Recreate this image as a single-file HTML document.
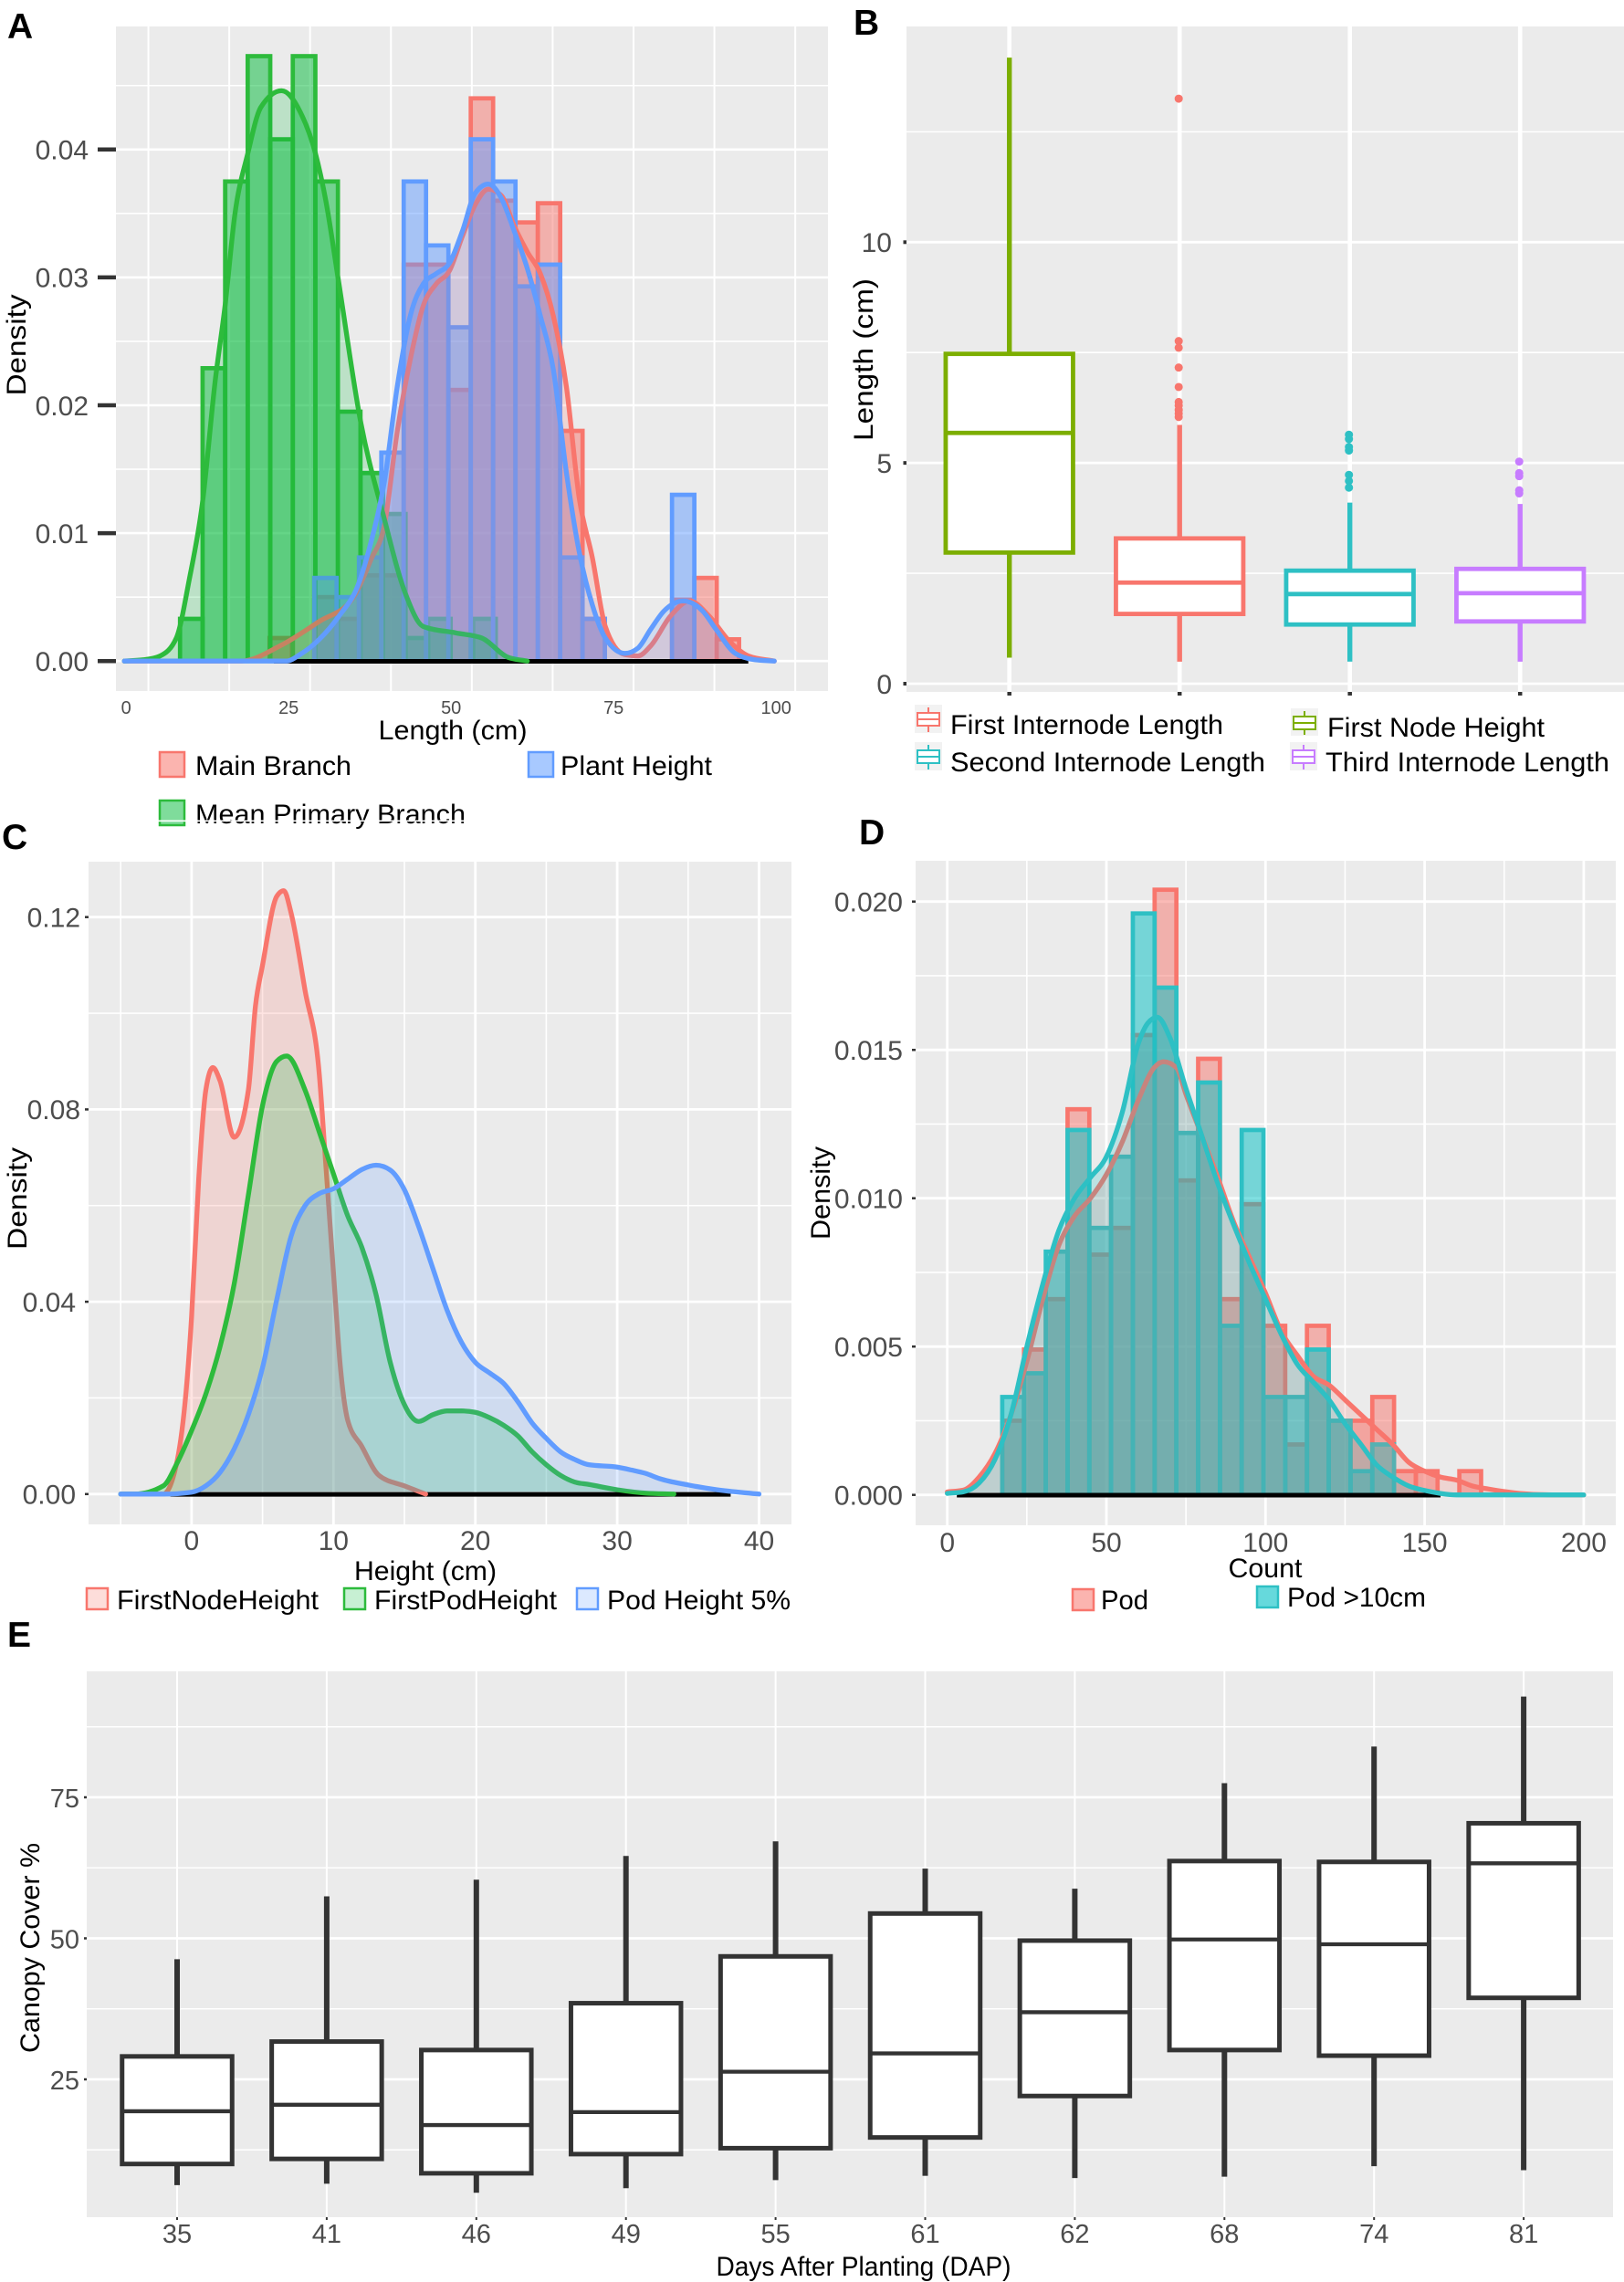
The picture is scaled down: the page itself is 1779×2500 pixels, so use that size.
<!DOCTYPE html>
<html lang="en">
<head>
<meta charset="utf-8">
<title>Multi-panel trait distribution figure</title>
<style>
html,body{margin:0;padding:0;background:#fff}
svg{display:block}
text{font-family:"Liberation Sans",sans-serif}
.panel-letter{font-weight:bold;font-size:39px;fill:#000}
.title{font-size:30px;fill:#000}
.legend{font-size:30px;fill:#000}
</style>
</head>
<body>
<svg id="figure" xmlns="http://www.w3.org/2000/svg" width="1779" height="2500" viewBox="0 0 1779 2500">
  <rect x="0" y="0" width="1779" height="2500" fill="#fff"/>

  <!-- Panel A -->
  <g id="panelA">
    <rect x="127" y="29" width="780" height="728" fill="#EBEBEB"/>
    <g id="plotA"></g>
    <text class="panel-letter" x="8" y="42">A</text>
    <text class="title" x="496" y="810" text-anchor="middle" textLength="163" lengthAdjust="spacingAndGlyphs">Length (cm)</text>
    <text class="title" transform="translate(28,378) rotate(-90)" text-anchor="middle" textLength="111" lengthAdjust="spacingAndGlyphs">Density</text>
    <rect x="175" y="824" width="27" height="27" fill="#F8766D" fill-opacity="0.55" stroke="#F8766D" stroke-width="2.5"/>
    <text class="legend" x="214" y="849" textLength="171" lengthAdjust="spacingAndGlyphs">Main Branch</text>
    <rect x="579" y="824" width="27" height="27" fill="#619CFF" fill-opacity="0.55" stroke="#619CFF" stroke-width="2.5"/>
    <text class="legend" x="614" y="849" textLength="166" lengthAdjust="spacingAndGlyphs">Plant Height</text>
    <rect x="175" y="877" width="27" height="27" fill="#00BA38" fill-opacity="0.5" stroke="#2DBB3C" stroke-width="2.5"/>
    <text class="legend" x="214" y="902" textLength="296" lengthAdjust="spacingAndGlyphs">Mean Primary Branch</text>
  </g>

  <!-- Panel B -->
  <g id="panelB">
    <rect x="993" y="29" width="786" height="729" fill="#EBEBEB"/>
    <g id="plotB"></g>
    <text class="panel-letter" x="935" y="38">B</text>
    <text class="title" transform="translate(956,394) rotate(-90)" text-anchor="middle" textLength="178" lengthAdjust="spacingAndGlyphs">Length (cm)</text>

    <g>
      <rect x="1002" y="772" width="30" height="31" fill="#F2F2F2"/>
      <path d="M1017 775V782M1017 795V802" stroke="#F8766D" stroke-width="2"/>
      <rect x="1005" y="781" width="24" height="14" fill="#fff" stroke="#F8766D" stroke-width="2"/>
      <path d="M1005 788H1029" stroke="#F8766D" stroke-width="2"/>
    </g>
    <text class="legend" x="1041" y="804" textLength="299" lengthAdjust="spacingAndGlyphs">First Internode Length</text>
    <g>
      <rect x="1002" y="813" width="30" height="31" fill="#F2F2F2"/>
      <path d="M1017 816V823M1017 836V843" stroke="#2EC0C4" stroke-width="2"/>
      <rect x="1005" y="822" width="24" height="14" fill="#fff" stroke="#2EC0C4" stroke-width="2"/>
      <path d="M1005 829H1029" stroke="#2EC0C4" stroke-width="2"/>
    </g>
    <text class="legend" x="1041" y="845" textLength="345" lengthAdjust="spacingAndGlyphs">Second Internode Length</text>
    <g>
      <rect x="1414" y="776" width="30" height="30" fill="#F2F2F2"/>
      <path d="M1429 779V785M1429 798V805" stroke="#7CAE00" stroke-width="2"/>
      <rect x="1417" y="785" width="24" height="14" fill="#fff" stroke="#7CAE00" stroke-width="2"/>
      <path d="M1417 792H1441" stroke="#7CAE00" stroke-width="2"/>
    </g>
    <text class="legend" x="1454" y="807" textLength="238" lengthAdjust="spacingAndGlyphs">First Node Height</text>
    <g>
      <rect x="1413" y="813" width="30" height="31" fill="#F2F2F2"/>
      <path d="M1428 816V823M1428 836V843" stroke="#C77CFF" stroke-width="2"/>
      <rect x="1416" y="822" width="24" height="14" fill="#fff" stroke="#C77CFF" stroke-width="2"/>
      <path d="M1416 829H1440" stroke="#C77CFF" stroke-width="2"/>
    </g>
    <text class="legend" x="1452" y="845" textLength="311" lengthAdjust="spacingAndGlyphs">Third Internode Length</text>
  </g>

  <!-- Panel C -->
  <g id="panelC">
    <rect x="97" y="944" width="770" height="726" fill="#EBEBEB"/>
    <g id="plotC"></g>
    <text class="panel-letter" x="2" y="930">C</text>
    <text class="title" x="466" y="1731" text-anchor="middle" textLength="156" lengthAdjust="spacingAndGlyphs">Height (cm)</text>
    <text class="title" transform="translate(29,1313) rotate(-90)" text-anchor="middle" textLength="112" lengthAdjust="spacingAndGlyphs">Density</text>
    <rect x="95" y="1740" width="23" height="23" fill="#F8766D" fill-opacity="0.25" stroke="#F8766D" stroke-width="2.5"/>
    <text class="legend" x="128" y="1763" textLength="221" lengthAdjust="spacingAndGlyphs">FirstNodeHeight</text>
    <rect x="377" y="1740" width="23" height="23" fill="#00BA38" fill-opacity="0.22" stroke="#2DBB3C" stroke-width="2.5"/>
    <text class="legend" x="410" y="1763" textLength="200" lengthAdjust="spacingAndGlyphs">FirstPodHeight</text>
    <rect x="632" y="1740" width="23" height="23" fill="#619CFF" fill-opacity="0.22" stroke="#619CFF" stroke-width="2.5"/>
    <text class="legend" x="665" y="1763" textLength="201" lengthAdjust="spacingAndGlyphs">Pod Height 5%</text>
  </g>

  <!-- Panel D -->
  <g id="panelD">
    <rect x="1003" y="943" width="767" height="728" fill="#EBEBEB"/>
    <g id="plotD"></g>
    <text class="panel-letter" x="941" y="925">D</text>
    <text class="title" x="1386" y="1728" text-anchor="middle" textLength="81" lengthAdjust="spacingAndGlyphs">Count</text>
    <text class="title" transform="translate(909,1307) rotate(-90)" text-anchor="middle" textLength="102" lengthAdjust="spacingAndGlyphs">Density</text>
    <rect x="1175" y="1741" width="23" height="23" fill="#F8766D" fill-opacity="0.55" stroke="#F8766D" stroke-width="2.5"/>
    <text class="legend" x="1206" y="1763" textLength="52" lengthAdjust="spacingAndGlyphs">Pod</text>
    <rect x="1377" y="1738" width="23" height="23" fill="#00BFC4" fill-opacity="0.6" stroke="#2EC0C4" stroke-width="2.5"/>
    <text class="legend" x="1410" y="1760" textLength="152" lengthAdjust="spacingAndGlyphs">Pod &gt;10cm</text>
  </g>

  <!-- Panel E -->
  <g id="panelE">
    <rect x="95" y="1831" width="1672" height="598" fill="#EBEBEB"/>
    <g id="plotE"></g>
    <text class="panel-letter" x="8" y="1804">E</text>
    <text class="title" x="946" y="2493" text-anchor="middle" textLength="323" lengthAdjust="spacingAndGlyphs">Days After Planting (DAP)</text>
    <text class="title" transform="translate(43,2134) rotate(-90)" text-anchor="middle" textLength="230" lengthAdjust="spacingAndGlyphs">Canopy Cover %</text>
  </g>
</svg>

<script>
// ---------- Panel A data ----------
const aXTickLabels = [0, 25, 50, 75, 100];
const aYTickValues = [0, 0.01, 0.02, 0.03, 0.04];
const aYTickLabels = ['0.00', '0.01', '0.02', '0.03', '0.04'];
const aGreenBinStart = 8.57;
const aGreenBinWidth = 3.47;
const aGreenBars = [0.0033, 0.0229, 0.0375, 0.0473, 0.0408, 0.0473, 0.0375, 0.0195, 0.0147, 0.0115, 0.0018, 0.0033, 0, 0.0033];
const aBinStart = 22.34;
const aBinWidth = 3.44;
const aRedBars = [0.0018, 0, 0.005, 0.0033, 0.0067, 0.0067, 0.031, 0.031, 0.0212, 0.044, 0.036, 0.0343, 0.0358, 0.018, 0.0033, 0, 0, 0, 0.0048, 0.0065, 0.0017];
const aBlueBars = [0, 0, 0.0065, 0.005, 0.0081, 0.0163, 0.0375, 0.0325, 0.0261, 0.0408, 0.0375, 0.0293, 0.031, 0.0081, 0.0033, 0, 0, 0, 0.013];
const aRedDensityX = [0, 18, 24, 30, 35, 38, 40, 42, 44, 46, 48, 50, 52, 54, 56, 58, 60, 62, 64, 66, 68, 70, 72, 74, 77, 79, 81, 84, 87, 90, 93, 96, 100];
const aRedDensityY = [0, 0, 0.0012, 0.0031, 0.0048, 0.008, 0.0106, 0.018, 0.0236, 0.0278, 0.0295, 0.0305, 0.0332, 0.0357, 0.0369, 0.0364, 0.034, 0.032, 0.0303, 0.027, 0.0215, 0.0127, 0.0081, 0.0027, 0.0005, 0.0004, 0.0012, 0.0035, 0.0047, 0.0035, 0.0016, 0.0004, 0];
const aGreenDensityX = [0, 3, 5.5, 8, 10, 12, 14, 15.5, 17, 19, 21, 24.2, 27, 29.4, 31, 32.9, 36.4, 39.8, 43.3, 46, 51, 55, 59, 62];
const aGreenDensityY = [0, 0.0001, 0.0004, 0.0018, 0.0064, 0.0123, 0.022, 0.0278, 0.0349, 0.0397, 0.0433, 0.0446, 0.043, 0.0397, 0.036, 0.0299, 0.0186, 0.0115, 0.0052, 0.0027, 0.0022, 0.0018, 0.0003, 0];
const aBlueDensityX = [0, 25, 27, 30, 33, 36, 38, 40, 42, 44, 46, 48, 50, 52, 54, 56, 58, 60, 62, 64, 66, 68, 70, 72, 74, 77, 79, 81, 83, 86, 89, 91, 94, 97, 100];
const aBlueDensityY = [0, 0, 0.0005, 0.0017, 0.0035, 0.006, 0.0094, 0.014, 0.0215, 0.027, 0.0295, 0.0303, 0.0311, 0.0336, 0.0366, 0.0373, 0.0362, 0.0336, 0.0307, 0.027, 0.0228, 0.0148, 0.0085, 0.0044, 0.0018, 0.0006, 0.001, 0.0025, 0.0039, 0.0047, 0.0039, 0.0025, 0.0006, 0.0001, 0];

// ---------- Panel B data ----------
const bYTickLabels = [0, 5, 10];
const bCategories = ['First Node Height', 'First Internode Length', 'Second Internode Length', 'Third Internode Length'];
const bColors = ['#7CAE00', '#F8766D', '#2EC0C4', '#C77CFF'];
const bWhiskerHigh = [14.18, 5.86, 4.1, 4.07];
const bQ3 = [7.47, 3.29, 2.56, 2.6];
const bMedian = [5.68, 2.29, 2.03, 2.05];
const bQ1 = [2.97, 1.58, 1.34, 1.41];
const bWhiskerLow = [0.59, 0.5, 0.5, 0.5];
const bOutliersFirstNode = [];
const bOutliersFirstInternode = [13.25, 7.76, 7.61, 7.16, 6.72, 6.38, 6.3, 6.2, 6.12, 6.04];
const bOutliersSecondInternode = [5.64, 5.54, 5.36, 5.28, 4.73, 4.59, 4.44];
const bOutliersThirdInternode = [5.03, 4.77, 4.7, 4.38, 4.31];

// ---------- Panel C data ----------
const cXTickLabels = [0, 10, 20, 30, 40];
const cYTickValues = [0, 0.04, 0.08, 0.12];
const cYTickLabels = ['0.00', '0.04', '0.08', '0.12'];
const cRedDensityX = [-5, -2, -1, 0, 0.5, 1, 1.5, 2, 3, 4, 4.5, 5, 6, 6.5, 7, 8, 9, 9.4, 10, 10.5, 11, 12, 13.2, 15, 16.5];
const cRedDensityY = [0, 0, 0.0072, 0.037, 0.0655, 0.084, 0.0887, 0.086, 0.0742, 0.084, 0.1015, 0.11, 0.1243, 0.1255, 0.121, 0.1047, 0.0873, 0.071, 0.046, 0.026, 0.0154, 0.0099, 0.0039, 0.0017, 0];
const cGreenDensityX = [-5, -4, -2, -1, 0, 1, 2, 3, 4, 5, 6, 6.7, 8, 9, 10, 11, 12, 13, 14, 15, 16, 17, 18, 19, 20, 21, 22, 23, 24, 25, 26, 27, 28, 30, 32, 34];
const cGreenDensityY = [0, 0, 0.0017, 0.0066, 0.0132, 0.0208, 0.0306, 0.0437, 0.0622, 0.0808, 0.09, 0.0911, 0.084, 0.0753, 0.0666, 0.0579, 0.0513, 0.0415, 0.0274, 0.0186, 0.0151, 0.0165, 0.0173, 0.0173, 0.017, 0.0159, 0.0143, 0.0121, 0.0088, 0.0061, 0.0039, 0.0025, 0.002, 0.0009, 0.0002, 0];
const cBlueDensityX = [-5, -2, 0, 1, 2, 3, 4, 5, 6, 7, 8, 9, 10, 11, 12, 13, 14, 15, 16, 17, 18, 19, 20, 21, 22, 23, 24, 25, 26, 27, 28, 30, 31, 32, 33, 35, 37, 40];
const cBlueDensityY = [0, 0, 0.0004, 0.0017, 0.0045, 0.0094, 0.0165, 0.0263, 0.0404, 0.0535, 0.06, 0.0625, 0.0635, 0.0655, 0.0675, 0.0684, 0.0674, 0.0633, 0.0557, 0.047, 0.0383, 0.0317, 0.0274, 0.0252, 0.023, 0.0192, 0.0148, 0.0116, 0.0088, 0.0072, 0.0061, 0.0056, 0.005, 0.0043, 0.0032, 0.0019, 0.0009, 0];

// ---------- Panel D data ----------
const dXTickLabels = [0, 50, 100, 150, 200];
const dYTickValues = [0, 0.005, 0.01, 0.015, 0.02];
const dYTickLabels = ['0.000', '0.005', '0.010', '0.015', '0.020'];
const dBinStart = 17.27;
const dBinWidth = 6.84;
const dRedBars = [0.0025, 0.0049, 0.0066, 0.013, 0.0081, 0.009, 0.0155, 0.0204, 0.0106, 0.0147, 0.0066, 0.0098, 0.0057, 0.0017, 0.0057, 0.0025, 0.0025, 0.0033, 0.0008, 0.0008, 0, 0.0008];
const dTealBars = [0.0033, 0.0041, 0.0082, 0.0123, 0.009, 0.0114, 0.0196, 0.0171, 0.0122, 0.0139, 0.0057, 0.0123, 0.0033, 0.0033, 0.0049, 0.0025, 0.0008, 0.0017];
const dRedDensityX = [0, 5, 10, 15, 20, 25, 30, 35, 40, 45, 50, 55, 60, 65, 68, 72, 75, 80, 85, 90, 95, 100, 105, 110, 115, 120, 125, 130, 135, 140, 145, 150, 155, 160, 165, 170, 180, 190, 200];
const dRedDensityY = [0.0001, 0.00016, 0.0006, 0.0014, 0.0027, 0.0045, 0.0066, 0.0084, 0.0094, 0.01, 0.0108, 0.0119, 0.0133, 0.0144, 0.0146, 0.0144, 0.0135, 0.0121, 0.0107, 0.0092, 0.008, 0.0068, 0.0055, 0.0047, 0.004, 0.0037, 0.0032, 0.0027, 0.0022, 0.0017, 0.0011, 0.0008, 0.0006, 0.0005, 0.0003, 0.0002, 0.00005, 0, 0];
const dTealDensityX = [0, 5, 10, 15, 20, 25, 30, 35, 40, 45, 50, 55, 60, 63, 66, 70, 75, 80, 85, 90, 95, 100, 105, 110, 115, 120, 125, 130, 135, 140, 145, 150, 155, 160, 200];
const dTealDensityY = [0.00005, 0.0001, 0.0004, 0.0012, 0.0027, 0.005, 0.0071, 0.0089, 0.01, 0.0107, 0.0114, 0.0129, 0.0152, 0.0159, 0.0161, 0.0154, 0.0137, 0.0121, 0.0105, 0.0091, 0.0078, 0.0066, 0.0054, 0.0044, 0.0038, 0.0032, 0.0024, 0.0017, 0.001, 0.0006, 0.0003, 0.00015, 0.00005, 0, 0];

// ---------- Panel E data ----------
const eCategories = ['35', '41', '46', '49', '55', '61', '62', '68', '74', '81'];
const eYTickLabels = [25, 50, 75];
const eWhiskerHigh = [46.3, 57.45, 60.4, 64.6, 67.2, 62.35, 58.8, 77.5, 84, 92.85];
const eQ3 = [29.07, 31.7, 30.2, 38.5, 46.8, 54.4, 49.6, 63.7, 63.55, 70.4];
const eMedian = [19.35, 20.5, 16.9, 19.2, 26.35, 29.6, 36.9, 49.8, 48.95, 63.3];
const eQ1 = [10, 10.9, 8.35, 11.75, 12.8, 14.7, 22.05, 30.2, 29.2, 39.45];
const eWhiskerLow = [6.25, 6.5, 4.9, 5.7, 7.15, 7.9, 7.5, 7.75, 9.6, 8.9];

// ---------- Axis functions ----------
const xA = v => 136.2 + 7.12 * v;
const yA = v => 724.2 - 14010 * v;
const xB = i => 1105.7 + 186.5 * i;
const yB = v => 749 - 48.37 * v;
const xC = v => 209.9 + 15.54 * v;
const yC = v => 1636.8 - 5267.5 * v;
const xD = v => 1037.7 + 3.486 * v;
const yD = v => 1637.7 - 32500 * v;
const xE = i => 194 + 163.9 * i;
const yE = v => 2278 - 6.18 * (v - 25);

// ---------- Helpers ----------
const NS = 'http://www.w3.org/2000/svg';
const GREY = '#4D4D4D';
function mk(parent, tag, attrs) {
  const el = document.createElementNS(NS, tag);
  for (const k in attrs) el.setAttribute(k, attrs[k]);
  parent.appendChild(el);
  return el;
}
function gridH(g, y, x0, x1, w) {
  const el = mk(g, 'line', {x1: x0, x2: x1, y1: y, y2: y, stroke: '#fff', 'stroke-width': w});
  
  
}
function gridV(g, x, y0, y1, w) {
  const el = mk(g, 'line', {x1: x, x2: x, y1: y0, y2: y1, stroke: '#fff', 'stroke-width': w});
  
  
}
function tickMark(g, x1, y1, x2, y2, w) {
  const el = mk(g, 'line', {x1: x1, y1: y1, x2: x2, y2: y2, stroke: '#333', 'stroke-width': w});
  
  
}
function tickLabel(g, x, y, str, size, anchor) {
  const el = mk(g, 'text', {x: x, y: y, 'font-size': size, 'text-anchor': anchor, fill: GREY});
  
  
  el.textContent = str;
}
function bars(g, values, start, width, xFn, yFn, color, stroke, fillOpacity, strokeWidth) {
  values.forEach((d, i) => {
    const x0 = xFn(start + i * width), x1 = xFn(start + (i + 1) * width);
    const el = mk(g, 'rect', {x: x0, y: yFn(d), width: x1 - x0, height: yFn(0) - yFn(d),
      fill: color, 'fill-opacity': fillOpacity, stroke: stroke, 'stroke-width': strokeWidth});
    
    
  });
}
// Monotone cubic path through the data points (no overshoot below zero)
function curvePath(pts) {
  const n = pts.length;
  const s = [], m = [];
  for (let i = 0; i < n - 1; i++) s.push((pts[i + 1][1] - pts[i][1]) / (pts[i + 1][0] - pts[i][0]));
  m[0] = s[0];
  m[n - 1] = s[n - 2];
  for (let i = 1; i < n - 1; i++) {
    const h0 = pts[i][0] - pts[i - 1][0], h1 = pts[i + 1][0] - pts[i][0];
    const p = (s[i - 1] * h1 + s[i] * h0) / (h0 + h1);
    m[i] = (Math.sign(s[i - 1]) + Math.sign(s[i])) * Math.min(Math.abs(s[i - 1]), Math.abs(s[i]), 0.5 * Math.abs(p));
  }
  let d = 'M' + pts[0][0].toFixed(2) + ' ' + pts[0][1].toFixed(2);
  for (let i = 0; i < n - 1; i++) {
    const dx = (pts[i + 1][0] - pts[i][0]) / 3;
    d += 'C' + (pts[i][0] + dx).toFixed(2) + ' ' + (pts[i][1] + m[i] * dx).toFixed(2) + ' ' +
         (pts[i + 1][0] - dx).toFixed(2) + ' ' + (pts[i + 1][1] - m[i + 1] * dx).toFixed(2) + ' ' +
         pts[i + 1][0].toFixed(2) + ' ' + pts[i + 1][1].toFixed(2);
  }
  return d;
}
function density(g, xs, ys, xFn, yFn, fill, stroke, fillOpacity) {
  const pts = xs.map((v, i) => [xFn(v), yFn(ys[i])]);
  const line = curvePath(pts);
  const base = yFn(0) - 2.5;
  const area = mk(g, 'path', {d: line + 'L' + pts[pts.length - 1][0] + ' ' + base + 'L' + pts[0][0] + ' ' + base + 'Z', fill: fill, 'fill-opacity': fillOpacity, stroke: 'none'});
  
  
  const el = mk(g, 'path', {d: line, fill: 'none', stroke: stroke, 'stroke-width': 5.3, 'stroke-linejoin': 'round', 'stroke-linecap': 'round'});
  
  
}
function baseline(g, x0, x1, y) {
  const el = mk(g, 'line', {x1: x0, x2: x1, y1: y, y2: y, stroke: '#000', 'stroke-width': 5});
  
  
}
function box(g, cx, width, yFn, hi, q3, med, q1, lo, color, sw, whiskerW, medianW) {
  const w1 = mk(g, 'line', {x1: cx, x2: cx, y1: yFn(hi), y2: yFn(q3), stroke: color, 'stroke-width': whiskerW});
  
  
  const w2 = mk(g, 'line', {x1: cx, x2: cx, y1: yFn(q1), y2: yFn(lo), stroke: color, 'stroke-width': whiskerW});
  
  
  const r = mk(g, 'rect', {x: cx - width / 2, y: yFn(q3), width: width, height: yFn(q1) - yFn(q3), fill: '#fff', stroke: color, 'stroke-width': sw});
  
  
  const m = mk(g, 'line', {x1: cx - width / 2, x2: cx + width / 2, y1: yFn(med), y2: yFn(med), stroke: color, 'stroke-width': medianW});
  
  
}

// ---------- Panel A ----------
(function () {
  const g = document.getElementById('plotA');
  for (let t = 0; t <= 0.0451; t += 0.005) {
    const major = Math.round(t * 1000) % 10 === 0;
    gridH(g, yA(t), 127, 907, major ? 2.6 : 1.6);
  }
  for (let k = 0; k <= 8; k++) gridV(g, xA(3.7 + 12.44 * k), 29, 757, 2);
  bars(g, aRedBars, aBinStart, aBinWidth, xA, yA, '#F8766D', '#F8766D', 0.5, 4.7);
  bars(g, aGreenBars, aGreenBinStart, aGreenBinWidth, xA, yA, '#00BA38', '#2DBB3C', 0.5, 4.7);
  bars(g, aBlueBars, aBinStart, aBinWidth, xA, yA, '#619CFF', '#619CFF', 0.5, 4.7);
  baseline(g, xA(23), xA(96), yA(0) + 0.3);
  density(g, aRedDensityX, aRedDensityY, xA, yA, '#F8766D', '#F8766D', 0.2);
  density(g, aGreenDensityX, aGreenDensityY, xA, yA, '#00BA38', '#2DBB3C', 0.2);
  density(g, aBlueDensityX, aBlueDensityY, xA, yA, '#619CFF', '#619CFF', 0.2);
  aYTickValues.forEach((v, i) => {
    tickMark(g, 107, yA(v), 127, yA(v), 4.5);
    tickLabel(g, 97, yA(v) + 10.8, aYTickLabels[i], 30, 'end');
  });
  aXTickLabels.forEach(v => tickLabel(g, xA(v) + 2, 782, String(v), 20, 'middle'));
})();

// ---------- Panel B ----------
(function () {
  const g = document.getElementById('plotB');
  [2.5, 7.5, 12.5].forEach(v => gridH(g, yB(v), 993, 1779, 1.6));
  bYTickLabels.forEach(v => gridH(g, yB(v), 993, 1779, 2.8));
  bCategories.forEach((c, i) => gridV(g, xB(i), 29, 758, 4.6));
  const outliers = [bOutliersFirstNode, bOutliersFirstInternode, bOutliersSecondInternode, bOutliersThirdInternode];
  bCategories.forEach((c, i) => {
    box(g, xB(i), 139.5, yB, bWhiskerHigh[i], bQ3[i], bMedian[i], bQ1[i], bWhiskerLow[i], bColors[i], 4.8, 5.4, 4.8);
    outliers[i].forEach(v => {
      const dot = mk(g, 'circle', {cx: xB(i) - 1, cy: yB(v), r: 4.5, fill: bColors[i]});
      
      
    });
    tickMark(g, xB(i), 758, xB(i), 762, 4.5);
  });
  bYTickLabels.forEach(v => {
    tickMark(g, 989.5, yB(v), 993, yB(v), 4);
    tickLabel(g, 977, yB(v) + 10.8, String(v), 30, 'end');
  });
})();

// ---------- Panel C ----------
(function () {
  const g = document.getElementById('plotC');
  for (let k = 0; k < 4; k++) gridH(g, yC(0.02 + 0.04 * k), 97, 867, 1.6);
  cYTickValues.forEach(v => gridH(g, yC(v), 97, 867, 2.8));
  for (let v = -5; v <= 35; v += 10) gridV(g, xC(v), 944, 1670, 1.6);
  cXTickLabels.forEach(v => gridV(g, xC(v), 944, 1670, 2.8));
  baseline(g, xC(-1.5), xC(38), yC(0) + 0.3);
  density(g, cRedDensityX, cRedDensityY, xC, yC, '#F8766D', '#F8766D', 0.2);
  density(g, cGreenDensityX, cGreenDensityY, xC, yC, '#00BA38', '#2DBB3C', 0.2);
  density(g, cBlueDensityX, cBlueDensityY, xC, yC, '#619CFF', '#619CFF', 0.2);
  cYTickValues.forEach((v, i) => {
    tickMark(g, 93, yC(v), 97, yC(v), 2.5);
    tickLabel(g, v < 0.05 ? 83 : 88, yC(v) + 10.8, cYTickLabels[i], 30, 'end');
  });
  cXTickLabels.forEach(v => tickLabel(g, xC(v), 1698, String(v), 30, 'middle'));
})();

// ---------- Panel D ----------
(function () {
  const g = document.getElementById('plotD');
  for (let k = 0; k < 4; k++) gridH(g, yD(0.0025 + 0.005 * k), 1003, 1770, 1.6);
  dYTickValues.forEach(v => gridH(g, yD(v), 1003, 1770, 2.8));
  for (let v = 25; v <= 175; v += 50) gridV(g, xD(v), 943, 1671, 1.6);
  dXTickLabels.forEach(v => gridV(g, xD(v), 943, 1671, 2.8));
  bars(g, dRedBars, dBinStart, dBinWidth, xD, yD, '#F8766D', '#F8766D', 0.5, 4.7);
  bars(g, dTealBars, dBinStart, dBinWidth, xD, yD, '#00BFC4', '#2EC0C4', 0.5, 4.7);
  baseline(g, xD(3), xD(155), yD(0) + 0.3);
  density(g, dRedDensityX, dRedDensityY, xD, yD, '#F8766D', '#F8766D', 0.2);
  density(g, dTealDensityX, dTealDensityY, xD, yD, '#00BFC4', '#2EC0C4', 0.2);
  dYTickValues.forEach((v, i) => {
    tickMark(g, 999, yD(v), 1003, yD(v), 2.5);
    tickLabel(g, 989, yD(v) + 10.8, dYTickLabels[i], 30, 'end');
  });
  dXTickLabels.forEach(v => tickLabel(g, xD(v), 1700, String(v), 30, 'middle'));
})();

// ---------- Panel E ----------
(function () {
  const g = document.getElementById('plotE');
  [12.5, 37.5, 62.5, 87.5].forEach(v => gridH(g, yE(v), 95, 1767, 1.6));
  eYTickLabels.forEach(v => gridH(g, yE(v), 95, 1767, 2.8));
  eCategories.forEach((c, i) => gridV(g, xE(i), 1831, 2429, 2));
  eCategories.forEach((c, i) => {
    box(g, xE(i), 120.5, yE, eWhiskerHigh[i], eQ3[i], eMedian[i], eQ1[i], eWhiskerLow[i], '#333333', 5, 6, 4.3);
    tickMark(g, xE(i), 2429, xE(i), 2432, 2);
    tickLabel(g, xE(i), 2457, c, 29, 'middle');
  });
  eYTickLabels.forEach(v => {
    tickMark(g, 92, yE(v), 95, yE(v), 2.5);
    tickLabel(g, 87, yE(v) + 10.8, String(v), 29, 'end');
  });
})();
</script>
</body>
</html>
